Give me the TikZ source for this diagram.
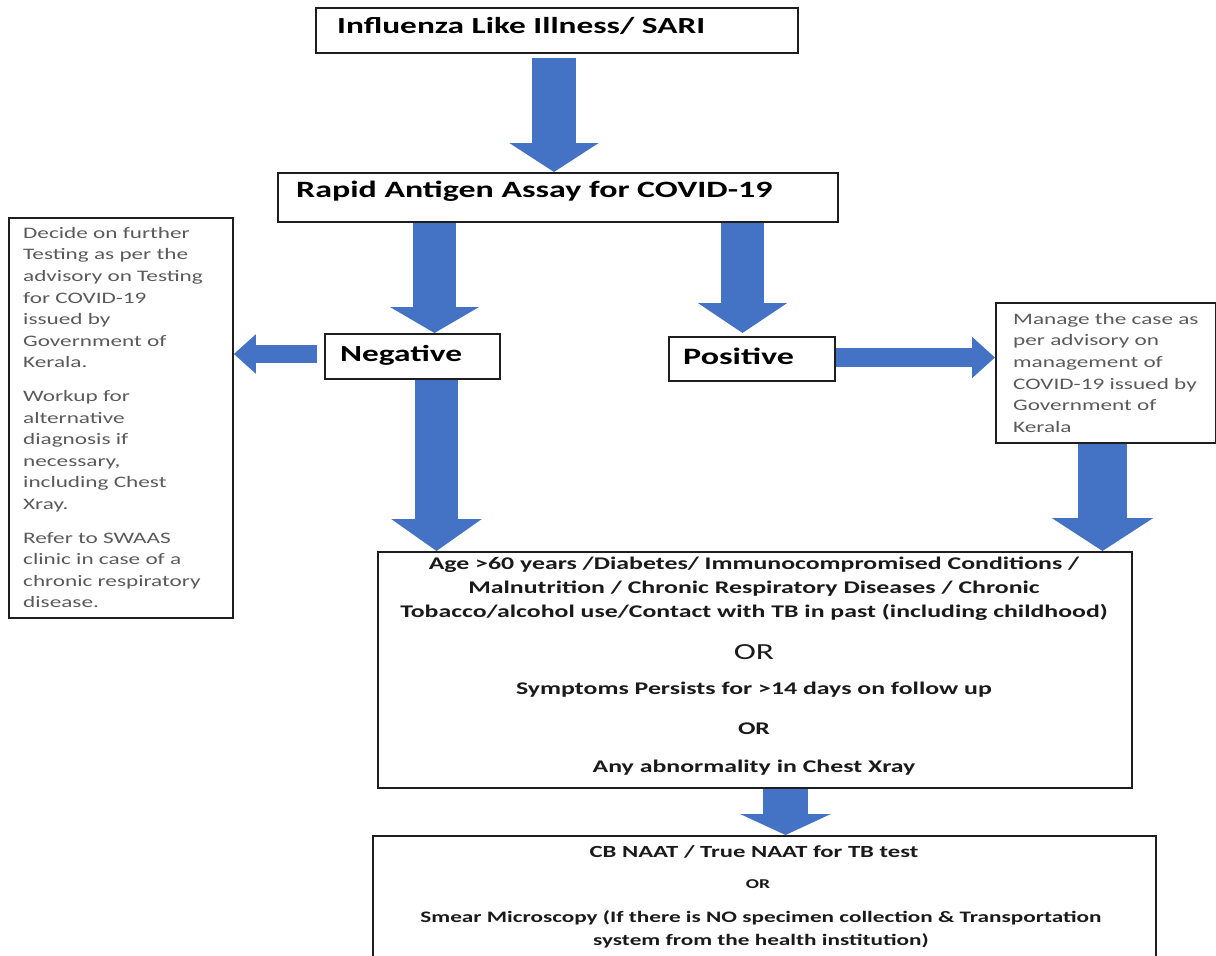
\documentclass[tikz,border=0pt]{standalone}
\usepackage{fontspec}
\setmainfont{Carlito}[FakeStretch=1.45]
\usetikzlibrary{arrows.meta}
\definecolor{arrowblue}{HTML}{4472C4}
\definecolor{notegray}{HTML}{5A5A5A}
\definecolor{boxline}{HTML}{1E1E1E}
\definecolor{bodytext}{HTML}{1A1A1A}
\begin{document}
\begin{tikzpicture}[x=1pt,y=-1pt,
  box/.style={draw=boxline, line width=1.8pt, inner sep=0pt, anchor=north west},
  title/.style={font=\fontsize{23}{27}\selectfont\bfseries, inner sep=0pt, anchor=base west},
  note/.style={font=\fontsize{16}{21.6}\selectfont, text=notegray, inner sep=0pt,
               align=left, anchor=north west},
  crit/.style={font=\fontsize{17.8}{24}\selectfont\bfseries, text=bodytext, inner sep=0pt, align=center},
  test/.style={font=\fontsize{16}{23}\selectfont\bfseries, text=bodytext, inner sep=0pt, align=center},
  blockarrow/.style n args={3}{draw=arrowblue, line width=#1pt,
               -{Triangle[length=#3pt,width=#2pt]}}]
\useasboundingbox (0,0) rectangle (1216,956);

% ---- boxes ----
\node[box, minimum width=482pt, minimum height=45pt] (ili) at (315,7) {};
\node[box, minimum width=560pt, minimum height=49pt] (rat) at (277,172) {};
\node[box, minimum width=175pt, minimum height=45pt] (neg) at (324,333) {};
\node[box, minimum width=166pt, minimum height=44pt] (pos) at (668,336) {};
\node[box, minimum width=224pt, minimum height=400pt] (advneg) at (8,217) {};
\node[box, minimum width=220pt, minimum height=140pt] (advpos) at (995,302) {};
\node[box, minimum width=754pt, minimum height=236pt] (risk) at (377,551) {};
\node[box, minimum width=783pt, minimum height=140pt] (tbtest) at (372,835) {};

% ---- box texts ----
\node[title] (ilitxt) at (337,33) {Influenza Like Illness/ SARI};
\node[title, font=\fontsize{23.4}{27}\selectfont\bfseries] (rattxt) at (296,197) {Rapid Antigen Assay for COVID-19};
\node[title] (negtxt) at (340,361) {Negative};
\node[title, font=\fontsize{23.5}{27}\selectfont\bfseries] (postxt) at (683,364) {Positive};

\node[note] (advnegtxt) at (23,227) {Decide on further\\Testing as per the\\advisory on Testing\\for COVID-19\\issued by\\Government of\\Kerala.\\[12pt]
Workup for\\alternative\\diagnosis if\\necessary,\\including Chest\\Xray.\\[12pt]
Refer to SWAAS\\clinic in case of a\\chronic respiratory\\disease.};

\node[note] (advpostxt) at (1013,313) {Manage the case as\\per advisory on\\management of\\COVID-19 issued by\\Government of\\Kerala};

\node[crit] (riskA) at (754,589) {Age >60 years /Diabetes/ Immunocompromised Conditions /\\Malnutrition / Chronic Respiratory Diseases / Chronic\\Tobacco/alcohol use/Contact with TB in past (including childhood)};
\node[crit, font=\fontsize{23}{27}\selectfont] (or1) at (754,652) {OR};
\node[crit] (riskB) at (754,690) {Symptoms Persists for >14 days on follow up};
\node[crit] (or2) at (754,729) {OR};
\node[crit] (riskC) at (754,768) {Any abnormality in Chest Xray};

\node[test, font=\fontsize{17}{23}\selectfont\bfseries] (tbA) at (754,852) {CB NAAT / True NAAT for TB test};
\node[test, font=\fontsize{13.5}{16}\selectfont\bfseries] (tbor) at (758,884) {OR};
\node[test] (tbB) at (761,929) {Smear Microscopy (If there is NO specimen collection \& Transportation\\system from the health institution)};

% ---- block arrows ----
\draw[blockarrow={44}{88}{29}] ([yshift=-4pt]ili.south -| 554,0) -- (rat.north -| 554,0);
\draw[blockarrow={43}{88}{26}] (rat.south -| 434.5,0) -- (neg.north -| 434.5,0);
\draw[blockarrow={43}{88}{30}] (rat.south -| 742.5,0) -- ([yshift=3pt]pos.north -| 742.5,0);
\draw[blockarrow={18}{38}{22}] ([xshift=-7pt]neg.west |- 0,354) -- (advneg.east |- 0,354);
\draw[blockarrow={19}{40}{23}] (pos.east |- 0,357.5) -- (advpos.west |- 0,357.5);
\draw[blockarrow={43}{89}{32}] (neg.south -| 436.5,0) -- (risk.north -| 436.5,0);
\draw[blockarrow={49}{100}{33}] (advpos.south -| 1102.5,0) -- (risk.north -| 1102.5,0);
\draw[blockarrow={45}{90}{21}] (risk.south -| 785.5,0) -- (tbtest.north -| 785.5,0);
\end{tikzpicture}
\end{document}
